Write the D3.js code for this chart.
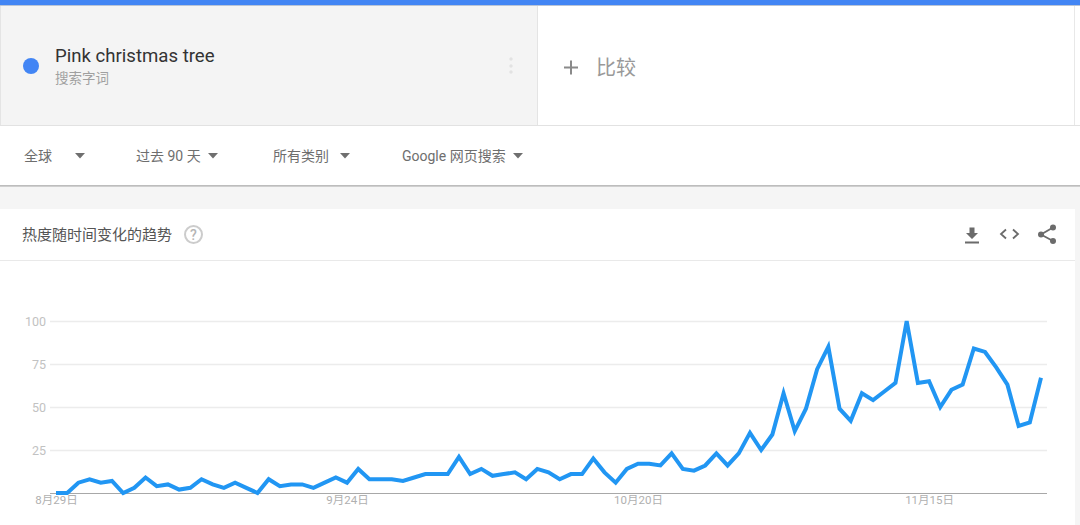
<!DOCTYPE html>
<html>
<head>
<meta charset="utf-8">
<script src="https://d3js.org/d3.v7.min.js"></script>
<style>
    html, body { margin: 0; padding: 0; background: #fff; overflow: hidden; }
    svg { display: block; font-family: Roboto, "Noto Sans CJK SC", sans-serif; }
</style>
</head>
<body>
<div id="chart"></div>
<script>
// daily values, 8/29 .. 11/25
const trendValues = [
    0, 0, 6, 8, 6, 7, 0, 3, 9, 4,
    5, 2, 3, 8, 5, 3, 6, 3, 0, 8,
    4, 5, 5, 3, 6, 9, 6, 14, 8, 8,
    8, 7, 9, 11, 11, 11, 21, 11, 14, 10,
    11, 12, 8, 14, 12, 8, 11, 11, 20, 12,
    6, 14, 17, 17, 16, 23, 14, 13, 16, 23,
    16, 23, 35, 25, 34, 58, 36, 49, 72, 85,
    49, 42, 58, 54, 59, 64, 100, 64, 65, 50,
    60, 63, 84, 82, 73, 63, 39, 41, 67
];
const xTickDays = [0, 26, 52, 78];
const xTickLabels = ["8月29日", "9月24日", "10月20日", "11月15日"];
const yTicks = [0, 25, 50, 75, 100];
const filterLabels = ["全球", "过去 90 天", "所有类别", "Google 网页搜索"];
const filterTextX = [24, 136, 273, 402];
const filterArrowX = [80, 213, 345, 518];

const width = 1080, height = 525;
const svg = d3.select("#chart").append("svg")
    .attr("width", width)
    .attr("height", height);

function box(x, y, w, h, fill) {
    svg.append("rect").attr("x", x).attr("y", y).attr("width", w).attr("height", h).attr("fill", fill);
}
function label(x, y, size, fill, str, anchor) {
    return svg.append("text")
        .attr("x", x).attr("y", y)
        .attr("text-anchor", anchor || "start")
        .style("font-size", size + "px")
        .style("fill", fill)
        .text(str);
}

// Page chrome
box(0, 0, width, height, "#fff");
box(0, 6, 537, 119, "#f4f4f4");
box(0, 0, width, 5, "#4285f4");
box(0, 5, width, 1, "#b9c4d6");
box(0, 125, width, 1, "#e2e2e2");
box(537, 6, 1, 119, "#e4e4e4");
box(1074, 6, 1, 119, "#e8e8e8");
box(0, 6, 1, 119, "#e4e4e4");
box(0, 187, width, 22, "#f5f5f5");
box(0, 185, width, 1, "#bdbdbd");
box(0, 186, width, 1, "#cfcfcf");
box(1075, 209, 5, 316, "#f5f5f5");
box(0, 260, 1075, 1, "#e9e9e9");

// Search term panel
svg.append("circle").attr("cx", 31).attr("cy", 66).attr("r", 8).attr("fill", "#4285f4");
label(55, 62, 18.6, "#333", "Pink christmas tree");
label(55, 83, 13.5, "#a0a0a0", "搜索字词");
[59, 66, 72].forEach(cy => {
    svg.append("circle").attr("cx", 511).attr("cy", cy).attr("r", 1.7).attr("fill", "#e2e2e2");
});
label(596, 75, 20, "#999", "比较");
svg.append("path")
    .attr("d", "M564 67.5H578M571 60.5V74.5")
    .attr("stroke", "#8a8a8a").attr("stroke-width", 2).attr("fill", "none");

// Filters
filterLabels.forEach((d, i) => {
    label(filterTextX[i], 160.5, 14, "#6e6e6e", d);
    const ax = filterArrowX[i];
    svg.append("path")
        .attr("d", `M${ax - 5} 153H${ax + 5}L${ax} 158.5Z`)
        .attr("fill", "#6f6f6f");
});

// Card header
label(22, 240, 15, "#555", "热度随时间变化的趋势");
svg.append("circle").attr("cx", 193.5).attr("cy", 234.5).attr("r", 8.5)
    .attr("fill", "none").attr("stroke", "#cccccc").attr("stroke-width", 2);
label(193.5, 239.5, 14, "#b5b5b5", "?", "middle").style("font-weight", 500);

// download / embed / share icons
svg.append("path").attr("d", "M969.5 227.5h5v5.5h3.5l-6 6l-6-6h3.5Z").attr("fill", "#6b6b6b");
svg.append("rect").attr("x", 965).attr("y", 241.5).attr("width", 14).attr("height", 2).attr("fill", "#6b6b6b");
svg.append("path")
    .attr("d", "M1006 229.5l-5 4.5l5 4.5M1013 229.5l5 4.5l-5 4.5")
    .attr("stroke", "#6b6b6b").attr("stroke-width", 1.8).attr("fill", "none");
svg.append("path")
    .attr("d", "M1053 227.5L1041 234.5L1053 241")
    .attr("stroke", "#6b6b6b").attr("stroke-width", 1.8).attr("fill", "none");
[[1053, 227.5], [1041, 234.5], [1053, 241]].forEach(p => {
    svg.append("circle").attr("cx", p[0]).attr("cy", p[1]).attr("r", 3).attr("fill", "#6b6b6b");
});

// Chart
const x = d3.scaleLinear().domain([0, trendValues.length - 1]).range([56, 1041]);
const y = d3.scaleLinear().domain([0, 100]).range([493, 321]);

const yAxis = svg.append("g")
    .attr("transform", "translate(50,0)")
    .call(d3.axisLeft(y).tickValues(yTicks).tickSize(0).tickPadding(4));
yAxis.select(".domain").remove();
yAxis.selectAll("text")
    .style("font-family", "Roboto, sans-serif")
    .style("font-size", "12.5px")
    .style("fill", "#c2c2c2")
    .filter(d => d === 0).remove();
yAxis.selectAll("line")
    .attr("x1", 0)
    .attr("x2", 997)
    .attr("stroke", d => d === 0 ? "#a8a8a8" : "#ececec")
    .attr("stroke-width", d => d === 0 ? 1 : 1.5);

const xAxis = svg.append("g")
    .attr("transform", "translate(0,493)")
    .call(d3.axisBottom(x)
        .tickValues(xTickDays)
        .tickSize(0)
        .tickPadding(3)
        .tickFormat((d, i) => xTickLabels[i]));
xAxis.select(".domain").remove();
xAxis.selectAll("text")
    .style("font-family", 'Roboto, "Noto Sans CJK SC", sans-serif')
    .style("font-size", "11.5px")
    .style("fill", "#b0b0b0");

// line stops flat at the 100 gridline like the original
svg.append("clipPath").attr("id", "plot-clip")
    .append("rect").attr("x", 50).attr("y", 320).attr("width", 997).attr("height", 180);

const line = d3.line()
    .x((d, i) => x(i))
    .y(d => y(d));

svg.append("path")
    .datum(trendValues)
    .attr("clip-path", "url(#plot-clip)")
    .attr("fill", "none")
    .attr("stroke", "#2196f3")
    .attr("stroke-width", 4)
    .attr("stroke-linejoin", "miter")
    .attr("d", line);
</script>
</body>
</html>
